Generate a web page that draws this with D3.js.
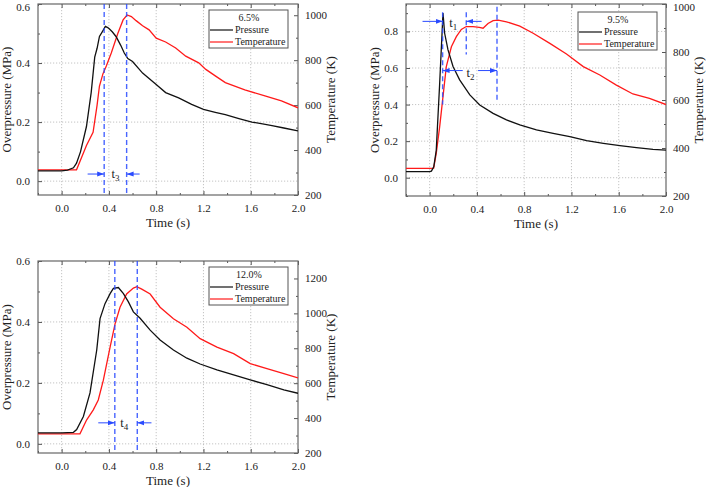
<!DOCTYPE html>
<html><head><meta charset="utf-8">
<script src="https://cdnjs.cloudflare.com/ajax/libs/d3/7.8.5/d3.min.js"></script>
<style>body{margin:0;background:#fff}svg, svg text{font-family:"Liberation Serif","Times New Roman","DejaVu Serif",serif !important}</style>
</head><body>
<svg id="c" width="706" height="487"></svg>
<script>
// ---------- data ----------
const xTicks = [0.0, 0.4, 0.8, 1.2, 1.6, 2.0];
const legendTitles = ["6.5%", "9.5%", "12.0%"];
const seriesNames = ["Pressure", "Temperature"];

// Panel 1 (6.5%)
const p1TimeP = [-0.2,0.0,0.05,0.1,0.126,0.16,0.21,0.25,0.28,0.3,0.32,0.35,0.37,0.39,0.405,0.43,0.46,0.5,0.53,0.56,0.6,0.685,0.8,0.88,0.99,1.1,1.2,1.3,1.385,1.5,1.61,1.7,1.78,1.88,2.0];
const p1Pres  = [0.035,0.035,0.037,0.045,0.061,0.1,0.185,0.3,0.42,0.45,0.49,0.51,0.524,0.52,0.515,0.505,0.49,0.46,0.434,0.415,0.405,0.366,0.327,0.3,0.282,0.26,0.243,0.233,0.225,0.212,0.2,0.194,0.188,0.18,0.17];
const p1TimeT = [-0.2,0.0,0.126,0.21,0.266,0.3,0.32,0.35,0.378,0.42,0.476,0.52,0.554,0.59,0.63,0.685,0.74,0.8,0.88,0.965,1.05,1.16,1.22,1.3,1.385,1.55,1.72,1.86,2.0];
const p1Temp  = [312,312,312,420,479,600,685,740,774,832,920,979,1001,994,976,953,935,898,881,854,818,788,759,730,700,668,641,619,588];

// Panel 2 (9.5%)
const p2TimeP = [-0.2,0.0,0.015,0.035,0.056,0.085,0.105,0.113,0.127,0.155,0.198,0.254,0.34,0.424,0.537,0.65,0.763,0.904,1.045,1.186,1.328,1.47,1.61,1.75,1.89,2.0];
const p2Pres  = [0.033,0.033,0.036,0.06,0.15,0.517,0.79,0.9,0.79,0.7,0.608,0.535,0.453,0.398,0.352,0.316,0.289,0.261,0.243,0.225,0.203,0.188,0.175,0.164,0.155,0.151];
const p2TimeT = [-0.2,0.0,0.034,0.056,0.085,0.113,0.141,0.184,0.226,0.268,0.31,0.367,0.42,0.452,0.494,0.537,0.58,0.65,0.763,0.876,1.017,1.158,1.3,1.44,1.58,1.72,1.86,2.0];
const p2Temp  = [315,315,316,378,489,614,739,822,864,894,906,906,903,899,919,931,933,926,908,878,836,792,739,704,662,625,607,581];

// Panel 3 (12.0%)
const p3TimeP = [-0.2,0.0,0.1,0.127,0.184,0.24,0.297,0.325,0.367,0.41,0.438,0.48,0.523,0.565,0.607,0.664,0.749,0.833,0.946,1.06,1.172,1.314,1.455,1.596,1.737,1.88,2.0];
const p3Pres  = [0.036,0.036,0.038,0.047,0.09,0.167,0.308,0.411,0.46,0.493,0.51,0.513,0.493,0.466,0.433,0.412,0.373,0.341,0.308,0.281,0.262,0.243,0.226,0.21,0.194,0.177,0.166];
const p3TimeT = [-0.2,0.0,0.155,0.212,0.268,0.31,0.353,0.41,0.452,0.494,0.55,0.607,0.636,0.678,0.749,0.833,0.946,1.06,1.172,1.314,1.455,1.596,1.737,1.88,2.0];
const p3Temp  = [310,310,310,390,447,504,617,807,940,1035,1111,1145,1153,1139,1111,1035,969,921,855,807,769,712,684,655,630];

// annotation times (s)
const p1Marks = [0.36, 0.55];
const p2Marks = [0.11, 0.31, 0.57];
const p3Marks = [0.45, 0.64];

// ---------- drawing ----------
const FONT = '"Liberation Serif","Times New Roman","DejaVu Serif",serif';
const svg = d3.select("#c");
const BLUE = "#2a4bff";
svg.append("defs").html(
  '<marker id="ah" viewBox="0 0 10 10" refX="10" refY="5" markerWidth="7" markerHeight="7" orient="auto-start-reverse" markerUnits="userSpaceOnUse"><path d="M0,1.5L10,5L0,8.5z" fill="'+BLUE+'"/></marker>');

function panel(cfg) {
  const g = svg.append("g");
  const x = d3.scaleLinear().domain([-0.2, 2.0]).range([cfg.l, cfg.r]);
  const yL = d3.scaleLinear().domain(cfg.yL).range([cfg.b, cfg.t]);
  const yR = d3.scaleLinear().domain(cfg.yR).range([cfg.b, cfg.t]);

  // grid
  const grid = g.append("g").attr("stroke", "#b5b5b5").attr("stroke-width", 0.8).attr("stroke-dasharray", "1.2,1.8");
  xTicks.filter(v => v < 1.99).forEach(v => grid.append("line").attr("x1", x(v)).attr("x2", x(v)).attr("y1", cfg.t).attr("y2", cfg.b));
  cfg.lt.filter(v => yL(v) > cfg.t + 1).forEach(v => grid.append("line").attr("x1", cfg.l).attr("x2", cfg.r).attr("y1", yL(v)).attr("y2", yL(v)));

  // axes (ticks inward)
  const ax = (gen) => gen.tickSizeOuter(0);
  g.append("g").attr("transform", `translate(0,${cfg.b})`)
    .call(ax(d3.axisBottom(x).tickValues(xTicks).tickFormat(d3.format(".1f")).tickSize(-4).tickPadding(9)));
  const minorX = d3.range(-0.2, 2.0, 0.4).map(v => +v.toFixed(2));
  g.append("g").attr("transform", `translate(0,${cfg.b})`).call(ax(d3.axisBottom(x).tickValues(minorX).tickFormat("").tickSize(-2)));
  g.append("g").attr("transform", `translate(0,${cfg.t})`).call(ax(d3.axisTop(x).tickValues(xTicks).tickFormat("").tickSize(-4)));
  g.append("g").attr("transform", `translate(0,${cfg.t})`).call(ax(d3.axisTop(x).tickValues(minorX).tickFormat("").tickSize(-2)));
  g.append("g").attr("transform", `translate(${cfg.l},0)`)
    .call(ax(d3.axisLeft(yL).tickValues(cfg.lt).tickFormat(d3.format(".1f")).tickSize(-4).tickPadding(8)));
  g.append("g").attr("transform", `translate(${cfg.l},0)`)
    .call(ax(d3.axisLeft(yL).tickValues(cfg.lm).tickFormat("").tickSize(-2)));
  g.append("g").attr("transform", `translate(${cfg.r},0)`)
    .call(ax(d3.axisRight(yR).tickValues(cfg.rt).tickFormat(d3.format("d")).tickSize(-4).tickPadding(7)));
  g.append("g").attr("transform", `translate(${cfg.r},0)`)
    .call(ax(d3.axisRight(yR).tickValues(cfg.rm).tickFormat("").tickSize(-2)));
  g.selectAll(".domain").remove();
  g.selectAll("g").attr("font-family", FONT);
  g.selectAll(".tick line").attr("stroke", "#555");
  g.selectAll(".tick text").attr("font-size", 11).attr("fill", "#222").attr("font-family", FONT);
  // keep labels at the very top fully on the page
  if (cfg.t < 8) {
    g.selectAll(".tick").filter(function () {
      const tr = this.getAttribute("transform") || "";
      const m = tr.match(/translate\(\s*0\s*,\s*([\d.]+)\)/);
      return m && +m[1] < 8;
    }).select("text").attr("dy", "0.55em");
  }

  // frame
  g.append("rect").attr("x", cfg.l).attr("y", cfg.t).attr("width", cfg.r - cfg.l).attr("height", cfg.b - cfg.t)
    .attr("fill", "none").attr("stroke", "#666").attr("stroke-width", 1.2);

  // lines
  const lineP = d3.line().x(d => x(d[0])).y(d => yL(d[1]));
  const lineT = d3.line().x(d => x(d[0])).y(d => yR(d[1]));
  const clip = "clip" + cfg.id;
  g.append("clipPath").attr("id", clip).append("rect").attr("x", cfg.l).attr("y", cfg.t).attr("width", cfg.r - cfg.l).attr("height", cfg.b - cfg.t);
  const lg = g.append("g").attr("clip-path", `url(#${clip})`);
  lg.append("path").datum(d3.zip(cfg.tT, cfg.temp)).attr("d", lineT).attr("fill", "none").attr("stroke", "#ff1a1a").attr("stroke-width", 1.3);
  lg.append("path").datum(d3.zip(cfg.tP, cfg.pres)).attr("d", lineP).attr("fill", "none").attr("stroke", "#111").attr("stroke-width", 1.3);

  // axis titles
  g.append("text").attr("transform", `translate(${cfg.l - 30},${(cfg.t + cfg.b) / 2}) rotate(-90)`)
    .attr("text-anchor", "middle").attr("dominant-baseline", "middle").attr("font-family", FONT).attr("font-size", 13).attr("fill", "#222").text("Overpressure (MPa)");
  g.append("text").attr("transform", `translate(${cfg.r + 34},${(cfg.t + cfg.b) / 2}) rotate(-90)`)
    .attr("text-anchor", "middle").attr("dominant-baseline", "middle").attr("font-family", FONT).attr("font-size", 13).attr("fill", "#222").text("Temperature (K)");
  g.append("text").attr("x", (cfg.l + cfg.r) / 2).attr("y", cfg.b + 32).attr("text-anchor", "middle")
    .attr("font-family", FONT).attr("font-size", 13).attr("fill", "#222").text("Time (s)");

  // legend
  const lx = cfg.legX, ly = cfg.legY;
  const leg = g.append("g").attr("transform", `translate(${lx},${ly})`);
  leg.append("rect").attr("width", 79).attr("height", 38).attr("fill", "#fff").attr("stroke", "#555").attr("stroke-width", 1);
  leg.append("text").attr("x", 40).attr("y", 11).attr("text-anchor", "middle").attr("font-family", FONT).attr("font-size", 10).attr("fill", "#222").text(cfg.title);
  [["#111", seriesNames[0], 23], ["#ff1a1a", seriesNames[1], 35]].forEach(([c, n, yy]) => {
    leg.append("line").attr("x1", 1).attr("x2", 24).attr("y1", yy - 3).attr("y2", yy - 3).attr("stroke", c).attr("stroke-width", 1.2);
    leg.append("text").attr("x", 26).attr("y", yy).attr("font-family", FONT).attr("font-size", 10).attr("fill", "#222").text(n);
  });

  return { g, x, yL, yR };
}

function vline(p, t, y1, y2) {
  p.g.append("line").attr("x1", p.x(t)).attr("x2", p.x(t)).attr("y1", y1).attr("y2", y2)
    .attr("stroke", BLUE).attr("stroke-width", 1.4).attr("stroke-dasharray", "5,3").attr("opacity", 0.85);
}
function arrow(p, t0, t1, yv) {
  p.g.append("line").attr("x1", p.x(t0)).attr("x2", p.x(t1)).attr("y1", p.yL(yv)).attr("y2", p.yL(yv))
    .attr("stroke", BLUE).attr("stroke-width", 1).attr("marker-end", "url(#ah)");
}
function tlabel(p, t, yv, sub) {
  const tx = p.g.append("text").attr("x", p.x(t)).attr("y", p.yL(yv) + 4).attr("text-anchor", "middle")
    .attr("font-family", FONT).attr("font-size", 12.5).attr("fill", "#222");
  tx.append("tspan").text("t");
  tx.append("tspan").attr("font-size", 9).attr("dy", 3).text(sub);
}

// Panel 1
const P1 = panel({ id: 1, l: 38, r: 298, t: 4, b: 195, yL: [-0.047, 0.6], yR: [200, 1050],
  lt: [0, 0.2, 0.4, 0.6], lm: [0.1, 0.3, 0.5], rt: [200, 400, 600, 800, 1000], rm: [300, 500, 700, 900],
  tP: p1TimeP, pres: p1Pres, tT: p1TimeT, temp: p1Temp, title: legendTitles[0], legX: 209, legY: 10 });
p1Marks.forEach(t => vline(P1, t, 4, 195));
arrow(P1, 0.22, p1Marks[0], 0.024);
arrow(P1, 0.66, p1Marks[1], 0.024);
tlabel(P1, 0.455, 0.024, "3");

// Panel 2
const P2 = panel({ id: 2, l: 406, r: 666, t: 4, b: 196, yL: [-0.1, 0.95], yR: [200, 1000],
  lt: [0, 0.2, 0.4, 0.6, 0.8], lm: [-0.1, 0.1, 0.3, 0.5, 0.7, 0.9], rt: [200, 400, 600, 800, 1000], rm: [300, 500, 700, 900],
  tP: p2TimeP, pres: p2Pres, tT: p2TimeT, temp: p2Temp, title: legendTitles[1], legX: 578, legY: 12 });
vline(P2, p2Marks[0], P2.yL(0.905), P2.yL(0.4));
vline(P2, p2Marks[1], P2.yL(0.905), P2.yL(0.674));
vline(P2, p2Marks[2], P2.yL(0.935), P2.yL(0.41));
arrow(P2, -0.06, p2Marks[0], 0.855);
arrow(P2, 0.44, p2Marks[1], 0.855);
tlabel(P2, 0.2, 0.845, "1");
arrow(P2, 0.28, p2Marks[0], 0.586);
arrow(P2, 0.41, p2Marks[2], 0.586);
tlabel(P2, 0.345, 0.57, "2");

// Panel 3
const P3 = panel({ id: 3, l: 38, r: 298, t: 261, b: 453, yL: [-0.03, 0.6], yR: [200, 1300],
  lt: [0, 0.2, 0.4, 0.6], lm: [0.1, 0.3, 0.5], rt: [200, 400, 600, 800, 1000, 1200], rm: [300, 500, 700, 900, 1100],
  tP: p3TimeP, pres: p3Pres, tT: p3TimeT, temp: p3Temp, title: legendTitles[2], legX: 209, legY: 267 });
p3Marks.forEach(t => vline(P3, t, 261, 453));
arrow(P3, 0.31, p3Marks[0], 0.069);
arrow(P3, 0.76, p3Marks[1], 0.069);
tlabel(P3, 0.53, 0.069, "4");
</script>
</body></html>
